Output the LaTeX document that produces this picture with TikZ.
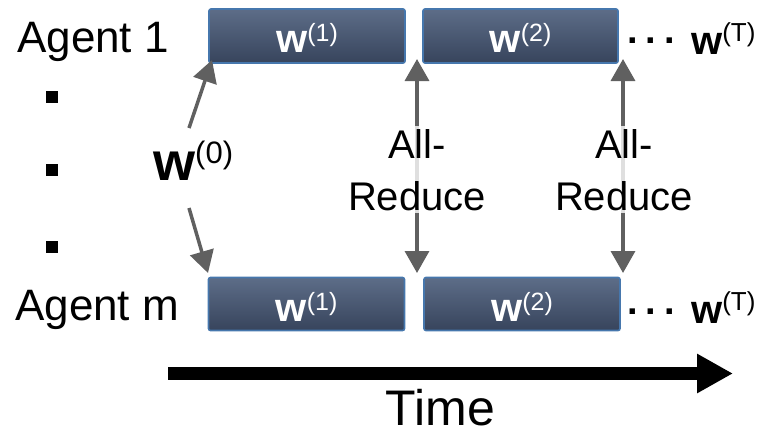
\documentclass[tikz,border=0pt]{standalone}
\usepackage{fontspec}
\setmainfont{Liberation Sans}
\usetikzlibrary{arrows.meta}
\definecolor{boxtop}{HTML}{5D6D88}
\definecolor{boxbot}{HTML}{37445C}
\definecolor{boxedge}{HTML}{4677AD}
\definecolor{arrgray}{HTML}{606060}
\newcommand{\fsz}[1]{\fontsize{#1}{#1}\selectfont}
\newcommand{\wsup}[4]{{\fsz{#1}\bfseries w}\raisebox{#3}{\fsz{#2}(#4)}}
\begin{document}
\begin{tikzpicture}[x=1pt,y=-1pt,
  wbox/.style={draw=boxedge,line width=1.6pt,rounded corners=2pt,
    top color=boxtop,bottom color=boxbot,minimum width=196pt,minimum height=54pt,inner sep=0pt},
  boxlab/.style={text=white,anchor=base,inner sep=0pt},
  agentlab/.style={anchor=base west,inner sep=0pt,font=\fsz{44}},
  grayarr/.style={draw=arrgray,line width=3.5pt,-{Triangle[length=22pt,width=24pt]}},
  grayarr2/.style={draw=arrgray,line width=3.5pt,{Triangle[length=22pt,width=24pt]}-{Triangle[length=22pt,width=24pt]}},
  arlab/.style={align=center,font=\fsz{40},anchor=base,fill=white,fill opacity=0.8,text opacity=1,inner sep=3pt},
  sq/.style={fill=black,minimum size=12.5pt,inner sep=0pt},
  dots/.style={anchor=base west,inner sep=0pt,font=\fsz{38}\bfseries}]
\useasboundingbox (0,0) rectangle (761,432);
% boxes
\node[wbox] (t1) at (307,36) {};
\node[wbox,minimum width=195pt] (t2) at (520.5,36) {};
\node[wbox,minimum height=53pt] (b1) at (306.5,304) {};
\node[wbox,minimum height=53pt] (b2) at (522,304) {};
\node[boxlab] (t1l) at (307,52) {\wsup{40}{25}{11pt}{1}};
\node[boxlab] (t2l) at (520.5,52) {\wsup{40}{25}{11pt}{2}};
\node[boxlab] (b1l) at (306.5,321) {\wsup{40}{25}{11pt}{1}};
\node[boxlab] (b2l) at (522,321) {\wsup{40}{25}{11pt}{2}};
% agents
\node[agentlab] (a1) at (17,52) {Agent 1};
\node[agentlab] (am) at (15,320) {Agent m};
\node[sq] (s1) at (52,97) {};
\node[sq] (s2) at (52,170) {};
\node[sq] (s3) at (52,247) {};
% right side
\node[dots] (td) at (627,43) {.\hspace{8pt}.\hspace{8pt}.};
\node[dots] (bd) at (627,314) {.\hspace{8pt}.\hspace{8pt}.};
\node[anchor=base west,inner sep=0pt] (tT) at (691,54) {\wsup{40}{26}{13pt}{T}};
\node[anchor=base west,inner sep=0pt] (bT) at (691,323) {\wsup{40}{26}{13pt}{T}};
% w0
\node[anchor=base west,inner sep=0pt] (w0) at (153,180) {\wsup{54}{31}{17pt}{0}};
\coordinate (w0t) at (189,128);
\coordinate (w0tt) at (212,60);
\coordinate (w0b) at (189,208);
\coordinate (w0bb) at (208,273);
\draw[grayarr] (w0t) -- (w0tt);
\draw[grayarr] (w0b) -- (w0bb);
% all-reduce
\coordinate (r1t) at (417,59);
\coordinate (r1b) at (417,273);
\coordinate (r2t) at (623,59);
\coordinate (r2b) at (623,273);
\draw[grayarr2] (r1b) -- (r1t);
\draw[grayarr2] (r2b) -- (r2t);
\node[arlab] (ar1) at (417,210) {All-\\[12pt]Reduce};
\node[arlab] (ar2) at (624,210) {All-\\[12pt]Reduce};
% time
\coordinate (ts) at (168,373.5);
\coordinate (te) at (733,373.5);
\draw[line width=13pt,-{Triangle[length=36pt,width=37pt]}] (ts) -- (te);
\node[anchor=base,inner sep=0pt,text depth=0pt,font=\fsz{50}] (time) at (440.5,425) {Time};
\end{tikzpicture}
\end{document}
